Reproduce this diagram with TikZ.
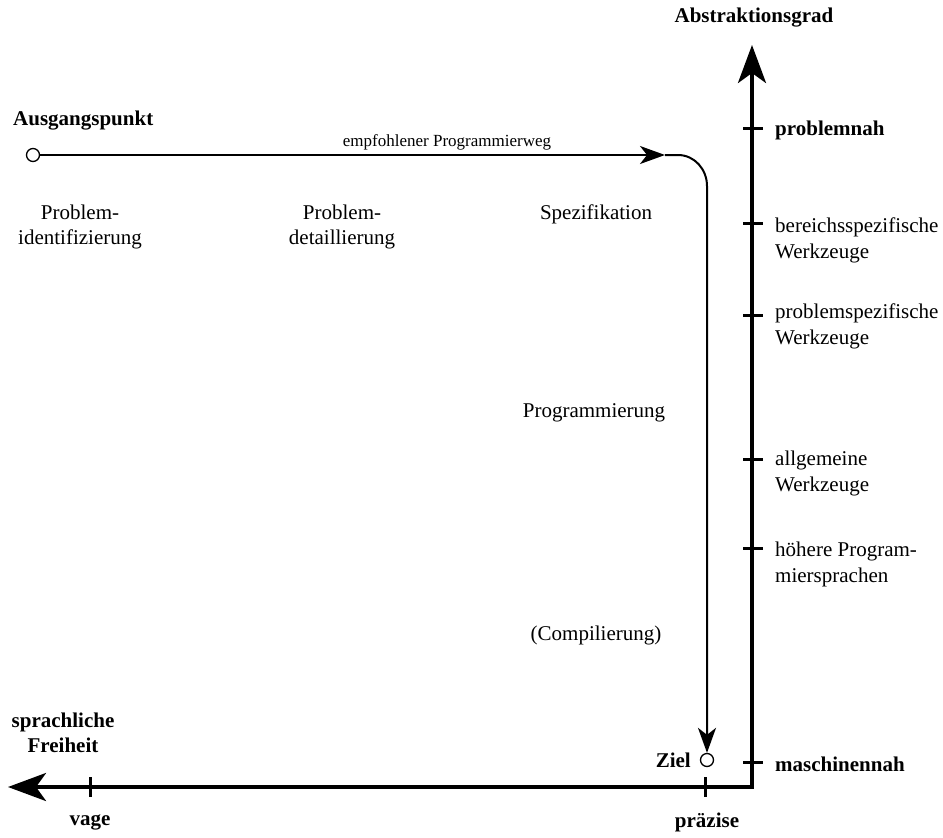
\documentclass[tikz,border=0pt]{standalone}
\usepackage{fontspec}
\setmainfont{Liberation Serif}
\usetikzlibrary{arrows.meta}
\begin{document}
\begin{tikzpicture}[x=1pt,y=-1pt,
  txt/.style={font=\fontsize{21}{25}\selectfont, inner sep=0pt, align=center},
  btxt/.style={font=\fontsize{21}{25}\selectfont\bfseries, inner sep=0pt, align=center},
  rtxt/.style={font=\fontsize{21}{26}\selectfont, inner sep=0pt, align=left, anchor=west},
  small/.style={font=\fontsize{17}{20}\selectfont, inner sep=0pt},
  axis/.style={line width=4pt},
  tick/.style={line width=3pt},
  route/.style={line width=2pt},
  endpt/.style={circle, draw, line width=1.3pt, minimum size=13pt, inner sep=0pt, fill=white},
  axtip/.style={-{Stealth[length=38pt,width=28pt,inset=10pt]}},
  rtip/.style={-{Stealth[length=25pt,width=18pt,inset=7pt]}}
]
\useasboundingbox (0,0) rectangle (943,838);

% axes
\coordinate (top) at (752,45);
\coordinate (corner) at (752,787);
\coordinate (left) at (8,787);
\draw[axis, axtip] (corner) -- (top);
\draw[axis, axtip] (corner) -- (left);
\fill (750,785) rectangle (754,789);

% ticks on the vertical axis
\foreach \y/\n in {128/t1,223/t2,315/t3,459/t4,548/t5,762/t6}{
  \coordinate (\n) at (753,\y);
  \draw[tick] (743,\y) -- (763,\y);
}
% ticks on the horizontal axis
\coordinate (hv) at (90,787);
\coordinate (hp) at (705,787);
\draw[tick] (90,777) -- (90,797);
\draw[tick] (705,777) -- (705,797);

% axis labels
\node[btxt] (abs) at (754,18) {Abstraktionsgrad};
\node[btxt] (sf) at (63,733) {sprachliche\\Freiheit};
\node[btxt] (vage) at (90,822) {vage};
\node[btxt] (praez) at (707,822) {präzise};

\node[btxt, anchor=west] (pn) at (775,130) {problemnah};
\node[rtxt] (bw) at (775,240) {bereichsspezifische\\Werkzeuge};
\node[rtxt] (pw) at (775,326) {problemspezifische\\Werkzeuge};
\node[rtxt] (aw) at (775,473) {allgemeine\\Werkzeuge};
\node[rtxt] (hp2) at (775,564) {höhere Program-\\miersprachen};
\node[btxt, anchor=west] (mn) at (775,764) {maschinennah};

% recommended route
\node[endpt] (start) at (33,155) {};
\node[endpt] (goal) at (707,760) {};
\coordinate (mid) at (665,155);
\coordinate (bend) at (678,155);
\coordinate (down) at (707,186);
\draw[route, rtip] (start) -- (mid);
\draw[route, rtip] (mid) -- (bend) to[out=0,in=90] (down) -- (goal.north);

\node[btxt, anchor=west] (aus) at (13,121) {Ausgangspunkt};
\node[small] (weg) at (447,142) {empfohlener Programmierweg};
\node[btxt, anchor=east] (ziel) at (691,760) {Ziel};

% phases
\node[txt] (p1) at (80,227) {Problem-\\identifizierung};
\node[txt] (p2) at (342,227) {Problem-\\detaillierung};
\node[txt] (p3) at (596,214) {Spezifikation};
\node[txt] (p4) at (594,413) {Programmierung};
\node[txt] (p5) at (596,635) {(Compilierung)};
\end{tikzpicture}
\end{document}
